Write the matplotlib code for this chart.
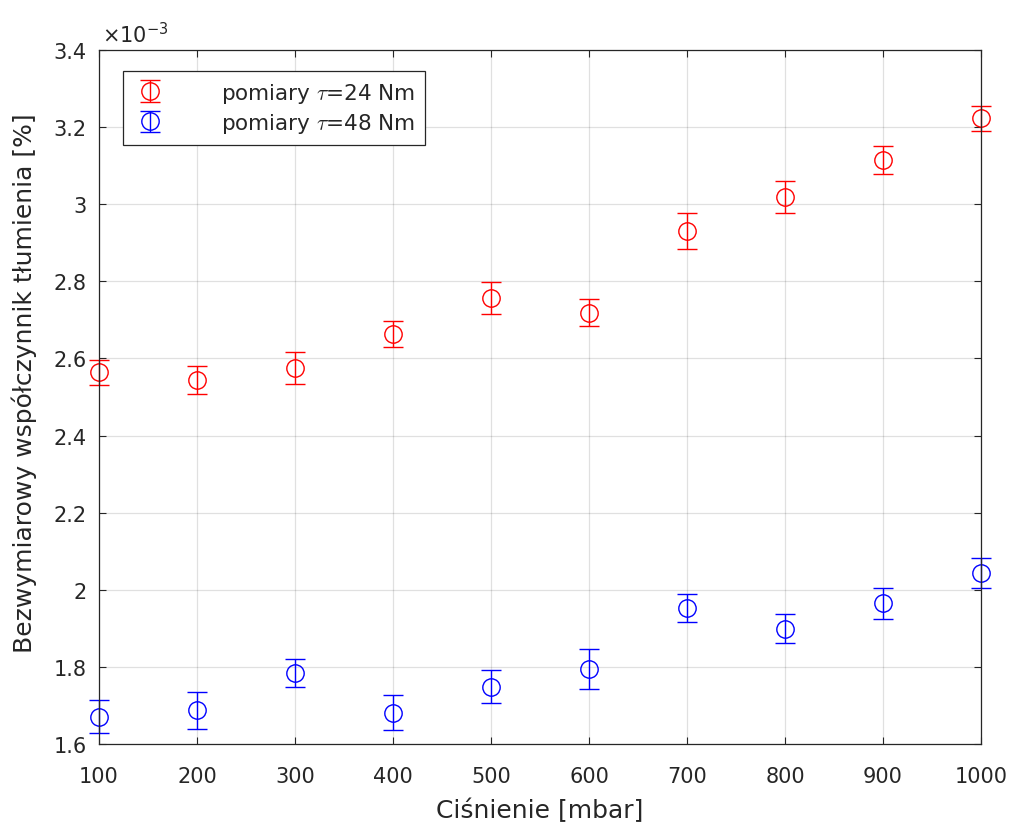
import matplotlib
matplotlib.use("Agg")
import matplotlib.pyplot as plt
from matplotlib.ticker import FuncFormatter, MultipleLocator

plt.rcParams["font.family"] = ["DejaVu Sans"]
plt.rcParams["mathtext.fontset"] = "cm"

# values in units of 1e-3
pressure = [100, 200, 300, 400, 500, 600, 700, 800, 900, 1000]
damp_24 = [2.564, 2.544, 2.576, 2.663, 2.757, 2.719, 2.931, 3.019, 3.115, 3.223]
err_24 = [0.032, 0.036, 0.042, 0.033, 0.042, 0.034, 0.047, 0.042, 0.036, 0.032]
damp_48 = [1.671, 1.687, 1.784, 1.681, 1.749, 1.795, 1.953, 1.899, 1.965, 2.043]
err_48 = [0.042, 0.048, 0.036, 0.045, 0.042, 0.051, 0.036, 0.038, 0.040, 0.039]

labels = [r"pomiary $\tau$=24 Nm", r"pomiary $\tau$=48 Nm"]

AX_COLOR = "#262626"

fig = plt.figure(figsize=(10.15, 8.28), dpi=100)
ax = fig.add_axes([0.0975, 0.1002, 0.869, 0.8382])

for y, e, c, lab in [(damp_24, err_24, "#ff0000", labels[0]),
                     (damp_48, err_48, "#0000ff", labels[1])]:
    cont = ax.errorbar(pressure, y, yerr=e, fmt="o", color=c, mfc="none",
                       mec=c, ms=12.5, mew=1.0, elinewidth=1.0, capsize=7,
                       capthick=1.0, label=lab)
    for art in cont.lines[:1] + tuple(cont.lines[1]) + tuple(cont.lines[2]):
        art.set_clip_on(False)

ax.set_xlim(100, 1000)
ax.set_ylim(1.6, 3.4)
ax.xaxis.set_major_locator(MultipleLocator(100))
ax.yaxis.set_major_locator(MultipleLocator(0.2))
ax.yaxis.set_major_formatter(FuncFormatter(lambda v, p: f"{v:g}"))

ax.grid(True, color="#000000", alpha=0.12, linewidth=0.9)
ax.set_axisbelow(True)
ax.tick_params(direction="in", length=5, width=0.8, top=True, right=True,
               labelsize=15, colors=AX_COLOR)
ax.tick_params(axis="x", pad=16)
ax.tick_params(axis="y", pad=9)
for s in ax.spines.values():
    s.set_color(AX_COLOR)
    s.set_linewidth(0.9)

ax.set_xlabel("Ciśnienie [mbar]", fontsize=18, color=AX_COLOR, labelpad=8)
ax.set_ylabel("Bezwymiarowy współczynnik tłumienia [%]", fontsize=18,
              color=AX_COLOR)
ax.yaxis.set_label_coords(-0.07, 0.522)

ax.text(0.003, 1.005, r"$\mathregular{\times10^{-3}}$", transform=ax.transAxes,
        fontsize=15, color=AX_COLOR, ha="left", va="bottom")

leg = ax.legend(loc="upper left", bbox_to_anchor=(0.027, 0.97),
                fontsize=15.5, frameon=True, fancybox=False, framealpha=1,
                edgecolor=AX_COLOR, handlelength=1.6, handletextpad=2.5,
                borderpad=0.45, labelspacing=0.3, borderaxespad=0)
leg.get_frame().set_linewidth(0.9)
for t in leg.get_texts():
    t.set_color(AX_COLOR)

fig.savefig("out.png", dpi=100, facecolor="white")
